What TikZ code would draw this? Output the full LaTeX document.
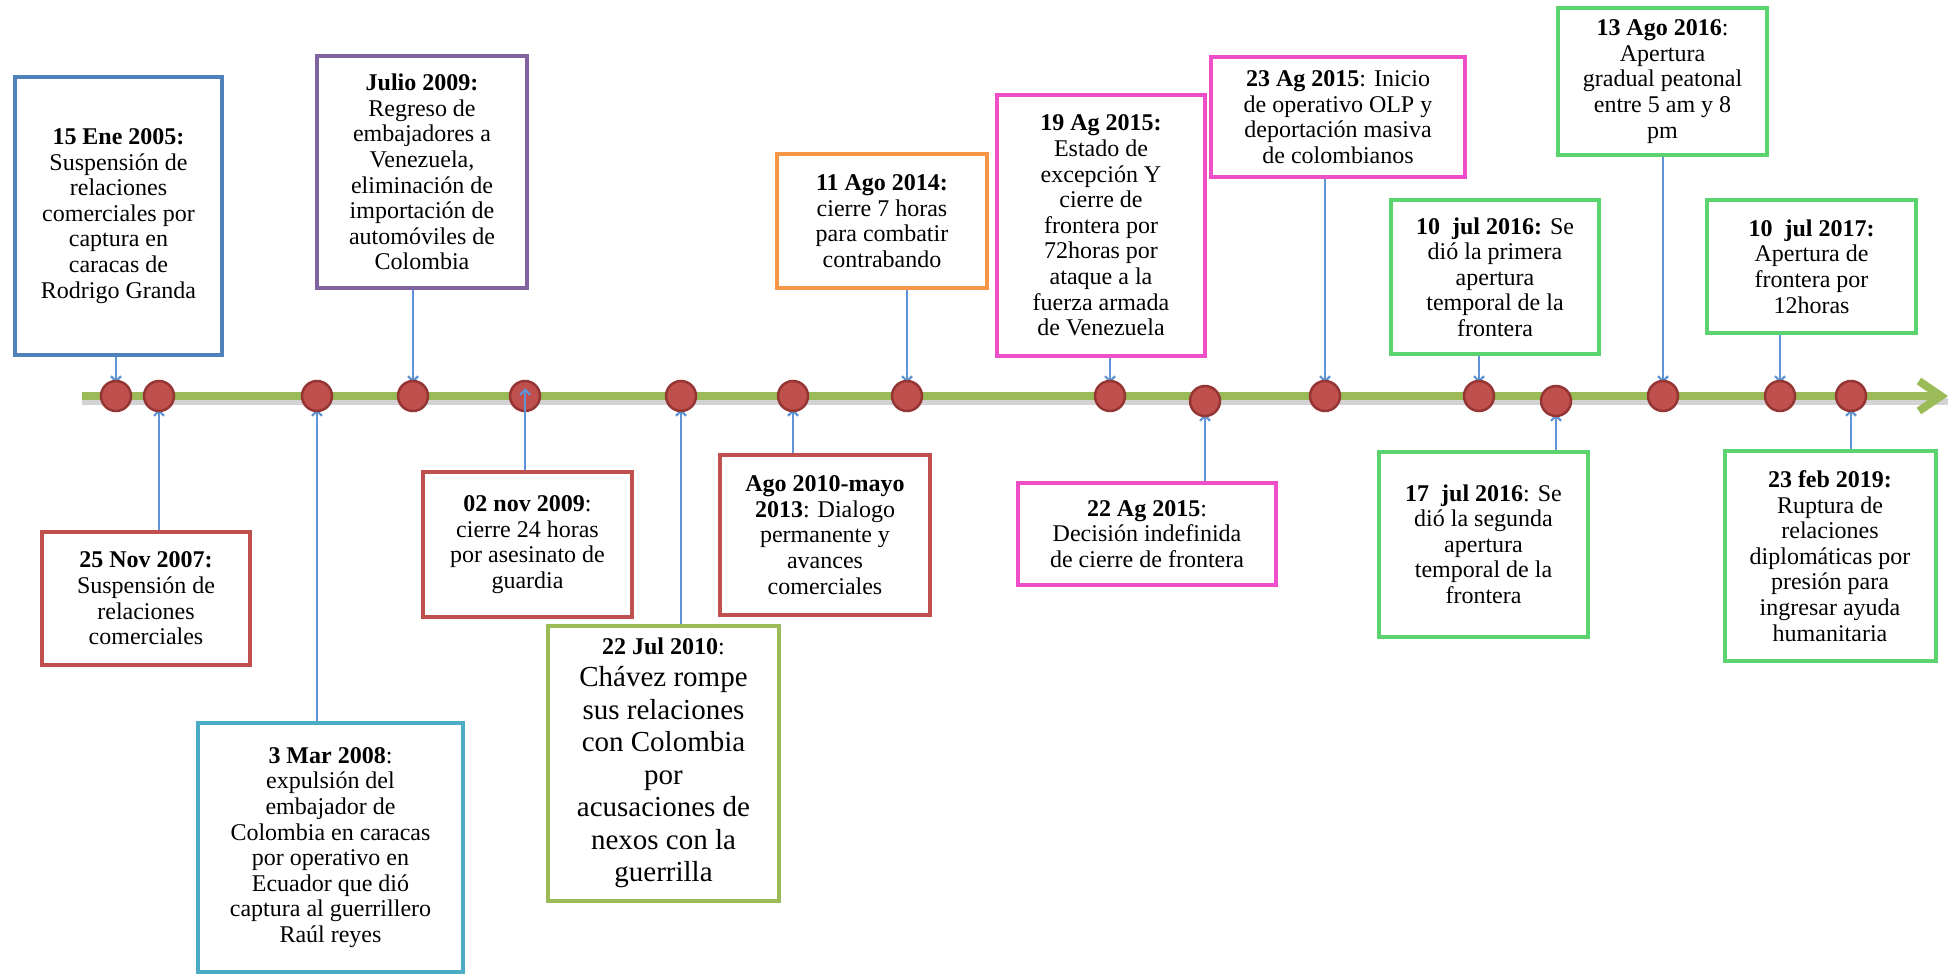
\documentclass[tikz,border=0pt]{standalone}
\usepackage{fontspec}
\setmainfont{Liberation Serif}
\usepackage{xcolor}
\usepackage{tikz}
\usetikzlibrary{positioning, arrows.meta, calc, backgrounds}
\definecolor{ublue}{HTML}{4F81BD}
\definecolor{upurple}{HTML}{8064A2}
\definecolor{uorange}{HTML}{F79646}
\definecolor{upink}{HTML}{EE4FC8}
\definecolor{ugreen}{HTML}{5BD46F}
\definecolor{uolive}{HTML}{9BBB59}
\definecolor{ured}{HTML}{C0504D}
\definecolor{ucyan}{HTML}{4BACC6}
\definecolor{dotred}{HTML}{C0504D}
\definecolor{dotrim}{HTML}{943634}
\definecolor{lnblue}{HTML}{5F94D6}
\definecolor{tlgreen}{HTML}{9BBB59}

\begin{document}
\begin{tikzpicture}[
  x=1pt, y=-1pt,
  ev/.style={draw=#1, line width=4pt, fill=white, align=center, inner sep=0pt,
             font=\fontsize{24}{25.6}\selectfont},
  tdot/.style={circle, draw=dotrim, fill=dotred, line width=2.5pt,
               minimum size=30pt, inner sep=0pt},
  conn/.style={draw=lnblue, line width=2.2pt,
               -{Straight Barb[length=5pt,width=10pt]}, shorten >=-3pt},
  tline/.style={draw=tlgreen, line width=8pt,
                -{Straight Barb[length=22pt,width=30pt]}}
]
\useasboundingbox (0,0) rectangle (1952,974);

% ---- Events above the line ----
\node[ev=ublue, minimum width=207pt, minimum height=278pt] (e05) at (118.5,216)
  {\textbf{15 Ene 2005:}\\Suspensión de\\relaciones\\comerciales por\\captura en\\caracas de\\Rodrigo Granda};
\node[ev=upurple, minimum width=210pt, minimum height=232pt] (e09a) at (422,172)
  {\textbf{Julio 2009:}\\Regreso de\\embajadores a\\Venezuela,\\eliminación de\\importación de\\automóviles de\\Colombia};
\node[ev=uorange, minimum width=210pt, minimum height=134pt] (e14) at (882,221)
  {\textbf{11 Ago 2014:}\\cierre 7 horas\\para combatir\\contrabando};
\node[ev=upink, minimum width=208pt, minimum height=261pt] (e15a) at (1101,225.5)
  {\textbf{19 Ag 2015:}\\Estado de\\excepción Y\\cierre de\\frontera por\\72horas por\\ataque a la\\fuerza armada\\de Venezuela};
\node[ev=upink, minimum width=254pt, minimum height=120pt] (e15c) at (1338,117)
  {\textbf{23 Ag 2015}: Inicio\\de operativo OLP y\\deportación masiva\\de colombianos};
\node[ev=ugreen, minimum width=208pt, minimum height=154pt] (e16a) at (1495,277)
  {\textbf{10\ \ jul 2016:} Se\\dió la primera\\apertura\\temporal de la\\frontera};
\node[ev=ugreen, minimum width=209pt, minimum height=147pt] (e16c) at (1662.5,81.5)
  {\textbf{13 Ago 2016}:\\Apertura\\gradual peatonal\\entre 5 am y 8\\pm};
\node[ev=ugreen, minimum width=209pt, minimum height=133pt] (e17) at (1811.5,266.5)
  {\textbf{10\ \ jul 2017:}\\Apertura de\\frontera por\\12horas};

% ---- Events below the line ----
\node[ev=ured, minimum width=208pt, minimum height=133pt] (e07) at (146,598.5)
  {\textbf{25 Nov 2007:}\\Suspensión de\\relaciones\\comerciales};
\node[ev=ucyan, minimum width=265pt, minimum height=249pt] (e08) at (330.5,847.5)
  {\textbf{3 Mar 2008}:\\expulsión del\\embajador de\\Colombia en caracas\\por operativo en\\Ecuador que dió\\captura al guerrillero\\Raúl reyes};
\node[ev=ured, minimum width=209pt, minimum height=145pt] (e09b) at (527.5,544.5)
  {\textbf{02 nov 2009}:\\cierre 24 horas\\por asesinato de\\guardia};
\node[ev=uolive, minimum width=231pt, minimum height=275pt,
      font=\fontsize{29}{32.5}\selectfont] (e10) at (663.5,763)
  {{\fontsize{24}{25.6}\selectfont\textbf{22 Jul 2010}:}\\Chávez rompe\\sus relaciones\\con Colombia\\por\\acusaciones de\\nexos con la\\guerrilla};
\node[ev=ured, minimum width=210pt, minimum height=160pt] (e13) at (825,535)
  {\textbf{Ago 2010-mayo}\\\textbf{2013}: Dialogo\\permanente y\\avances\\comerciales};
\node[ev=upink, minimum width=258pt, minimum height=102pt] (e15b) at (1147,534)
  {\textbf{22 Ag 2015}:\\Decisión indefinida\\de cierre de frontera};
\node[ev=ugreen, minimum width=209pt, minimum height=185pt] (e16b) at (1483.5,544)
  {\textbf{17\ \ jul 2016}: Se\\dió la segunda\\apertura\\temporal de la\\frontera};
\node[ev=ugreen, minimum width=211pt, minimum height=210pt] (e19) at (1830,556)
  {\textbf{23 feb 2019:}\\Ruptura de\\relaciones\\diplomáticas por\\presión para\\ingresar ayuda\\humanitaria};

% ---- Dots on the time line ----
\node[tdot] (t05)  at (116,396) {};
\node[tdot] (t07)  at (159,396) {};
\node[tdot] (t08)  at (317,396) {};
\node[tdot] (t09a) at (413,396) {};
\node[tdot] (t09b) at (525,396) {};
\node[tdot] (t10)  at (681,396) {};
\node[tdot] (t13)  at (793,396) {};
\node[tdot] (t14)  at (907,396) {};
\node[tdot] (t15a) at (1110,396) {};
\node[tdot] (t15b) at (1205,401) {};
\node[tdot] (t15c) at (1325,396) {};
\node[tdot] (t16a) at (1479,396) {};
\node[tdot] (t16b) at (1556,401) {};
\node[tdot] (t16c) at (1663,396) {};
\node[tdot] (t17)  at (1780,396) {};
\node[tdot] (t19)  at (1851,396) {};

\coordinate (tl0) at (82,396);
\coordinate (tl1) at (1948,396);

\begin{scope}[on background layer]
  % time line with its shadow
  \draw[gray, opacity=.35, line width=7pt] ([yshift=-5pt]tl0) -- ([yshift=-5pt]tl1);
  \draw[tline] (tl0) -- (tl1);
  % connectors, up
  \draw[conn] (e05.south -| t05)   -- (t05);
  \draw[conn] (e09a.south -| t09a) -- (t09a);
  \draw[conn] (e14.south -| t14)   -- (t14);
  \draw[conn] (e15a.south -| t15a) -- (t15a);
  \draw[conn] (e15c.south -| t15c) -- (t15c);
  \draw[conn] (e16a.south -| t16a) -- (t16a);
  \draw[conn] (e16c.south -| t16c) -- (t16c);
  \draw[conn] (e17.south -| t17)   -- (t17);
  % connectors, down
  \draw[conn] (e07.north -| t07)   -- (t07);
  \draw[conn] (e08.north -| t08)   -- (t08);
  \draw[conn] (e10.north -| t10)   -- (t10);
  \draw[conn] (e13.north -| t13)   -- (t13);
  \draw[conn] (e15b.north -| t15b) -- (t15b);
  \draw[conn] (e16b.north -| t16b) -- (t16b);
  \draw[conn] (e19.north -| t19)   -- (t19);
\end{scope}

\draw[conn, shorten >=-24pt] (e09b.north -| t09b) -- (t09b);

\end{tikzpicture}
\end{document}
